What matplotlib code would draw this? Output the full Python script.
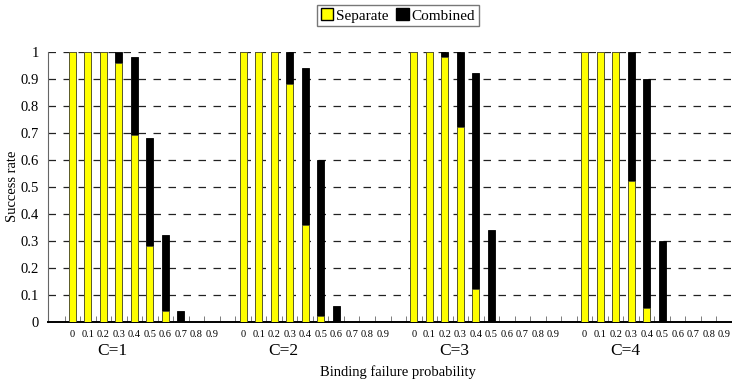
import numpy as np
import matplotlib
matplotlib.use("Agg")
import matplotlib.pyplot as plt
from matplotlib.patches import Patch

plt.rcParams['font.family'] = ['Liberation Serif', 'DejaVu Serif']

# binding failure probabilities (x labels inside every group)
probs = ['0', '0.1', '0.2', '0.3', '0.4', '0.5', '0.6', '0.7', '0.8', '0.9']
groups = ['C=1', 'C=2', 'C=3', 'C=4']

separate_c1 = [1, 1, 1, 0.96, 0.69, 0.28, 0.04, 0, 0, 0]
combined_c1 = [1, 1, 1, 1, 0.98, 0.68, 0.32, 0.04, 0, 0]
separate_c2 = [1, 1, 1, 0.88, 0.36, 0.02, 0, 0, 0, 0]
combined_c2 = [1, 1, 1, 1, 0.94, 0.60, 0.06, 0, 0, 0]
separate_c3 = [1, 1, 0.98, 0.72, 0.12, 0, 0, 0, 0, 0]
combined_c3 = [1, 1, 1, 1, 0.92, 0.34, 0, 0, 0, 0]
separate_c4 = [1, 1, 1, 0.52, 0.05, 0, 0, 0, 0, 0]
combined_c4 = [1, 1, 1, 1, 0.90, 0.30, 0, 0, 0, 0]

separate = [separate_c1, separate_c2, separate_c3, separate_c4]
combined = [combined_c1, combined_c2, combined_c3, combined_c4]

fig = plt.figure(figsize=(7.32, 3.85), dpi=100)
ax = fig.add_axes([47.5 / 732, 63.3 / 385, 1 - 47.5 / 732, 270 / 385])

n = len(probs)
width = 0.45
all_x = []
all_lbl = []
for g in range(len(groups)):
    x = np.arange(n) + 1 + g * (n + 1)   # one empty slot between groups
    ax.bar(x, combined[g], width, color='black', edgecolor='black', linewidth=0.6, zorder=3)
    ax.bar(x, separate[g], width, color='#ffff00', edgecolor='#555533', linewidth=0.6, zorder=4)
    all_x.extend(x)
    all_lbl.extend(probs)
    ax.text(x[0] + 2.6, -0.11, groups[g], transform=ax.get_xaxis_transform(),
            ha='center', va='center', fontsize=12.5)

ax.set_xlim(-0.6, 43.4)
ax.set_ylim(0, 1)
ax.set_xticks(all_x)
ax.set_xticklabels(all_lbl, fontsize=7.5)
ax.tick_params(axis='x', length=0, pad=6)
ax.set_xticks(np.arange(0.5, 44, 1), minor=True)
ax.tick_params(axis='x', which='minor', direction='in', length=4, color='#666666')

ax.set_yticks(np.arange(0, 1.01, 0.1))
ax.set_yticklabels(['0', '0.1', '0.2', '0.3', '0.4', '0.5', '0.6', '0.7', '0.8', '0.9', '1'], fontsize=10.5)
ax.tick_params(axis='y', length=0, pad=6)
ax.set_ylabel('Success rate', fontsize=10.5)
ax.yaxis.set_label_coords(-0.041, 0.5)

ax.yaxis.grid(True, color='#222222', linestyle=(0, (6, 6)), linewidth=0.9)
ax.set_axisbelow(True)
for s in ['top', 'right']:
    ax.spines[s].set_visible(False)
ax.spines['left'].set_color('#666666')
ax.spines['bottom'].set_linewidth(1.4)

ax.text(22, -0.185, 'Binding failure probability', transform=ax.get_xaxis_transform(),
        ha='center', va='center', fontsize=10.5)

handles = [Patch(facecolor='#ffff00', edgecolor='black', label='Separate'),
           Patch(facecolor='black', edgecolor='black', label='Combined')]
fig.legend(handles=handles, loc='center', bbox_to_anchor=(398 / 732, 1 - 15.5 / 385), ncol=2,
           fontsize=11, frameon=True, fancybox=False, edgecolor='#555555',
           handlelength=0.8, handleheight=0.8, handletextpad=0.2, columnspacing=0.5,
           borderpad=0.25, borderaxespad=0)

fig.savefig('out.png', dpi=100)
